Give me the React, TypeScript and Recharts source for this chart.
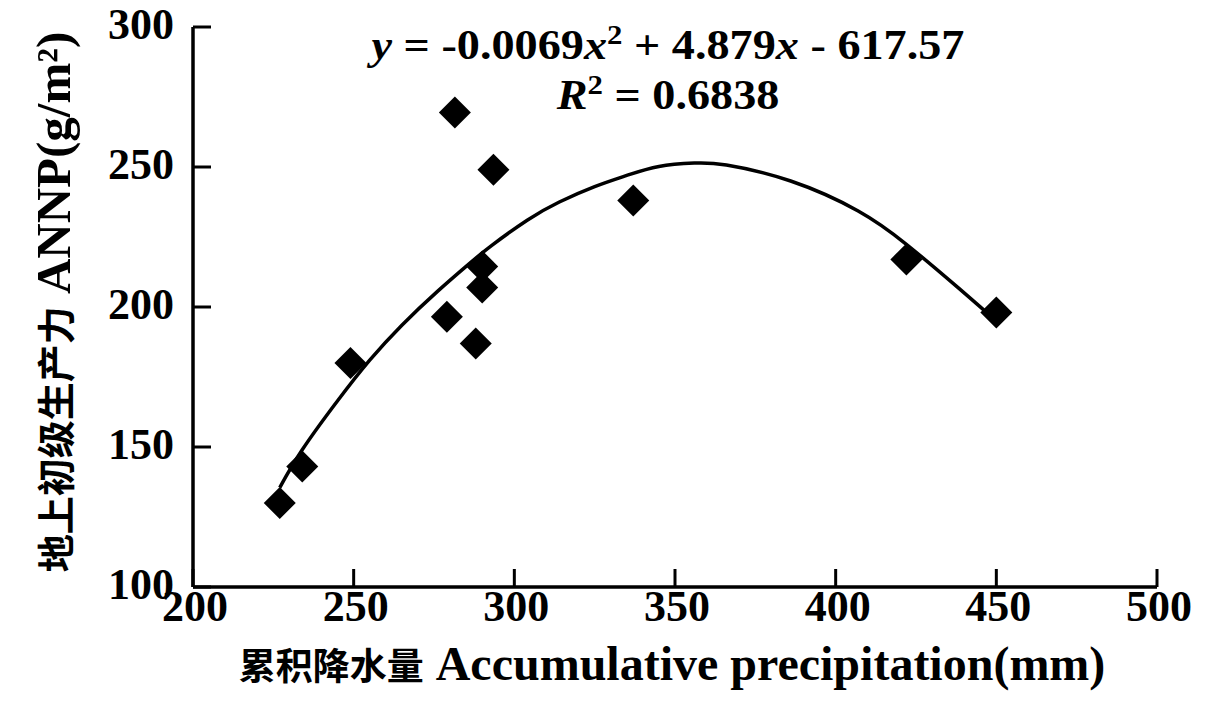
import { ComposedChart, Scatter, Line, XAxis, YAxis } from 'recharts';

// observed points (precipitation mm, ANNP g/m2)
const precip = [227, 234, 249, 279, 281.5, 288, 290, 290, 293.5, 337, 422, 450];
const annp = [130, 143, 180, 196.5, 269.5, 187, 207, 214.5, 249, 238, 217, 198];

// fitted curve
const curveX = [227, 234, 245, 255, 265, 276, 286, 293, 304, 314, 325, 335, 345, 356, 366, 386, 407, 422, 438, 448];
const curveY = [135.5, 149, 166.5, 181, 193.5, 205.5, 215.5, 222, 231, 237.5, 243, 247, 250.2, 251.4, 250.7, 245, 234.3, 222.4, 207, 197];

const xTicks = [200, 250, 300, 350, 400, 450, 500];
const yTicks = [100, 150, 200, 250, 300];

const points = precip.map((x, i) => ({ x, y: annp[i] }));
const curve = curveX.map((x, i) => ({ x, fit: curveY[i] }));

const SERIF = '"Liberation Serif", "Times New Roman", serif';
const CJK = '"Noto Sans CJK SC", sans-serif';
const TICK_LEN = 18;

const Diamond = (props: any) => {
  const { cx, cy } = props;
  const r = 16;
  return (
    <polygon
      points={`${cx},${cy - r} ${cx + r},${cy} ${cx},${cy + r} ${cx - r},${cy}`}
      fill="#000"
    />
  );
};

// inward ticks: tickSize/tickMargin are 0, so x/y is the axis position
const XTick = (props: any) => {
  const { x, y, payload } = props;
  return (
    <g>
      <line x1={x} x2={x} y1={y} y2={y - TICK_LEN} stroke="#000" strokeWidth={3} />
      <text x={x + 2} y={y + 34} textAnchor="middle" fill="#000"
        style={{ fontFamily: SERIF, fontSize: 44, fontWeight: 'bold' }}>
        {payload.value}
      </text>
    </g>
  );
};

const YTick = (props: any) => {
  const { x, y, payload } = props;
  return (
    <g>
      <line x1={x} x2={x + TICK_LEN} y1={y} y2={y} stroke="#000" strokeWidth={3} />
      <text x={x - 19} y={y + 12} textAnchor="end" fill="#000"
        style={{ fontFamily: SERIF, fontSize: 44, fontWeight: 'bold' }}>
        {payload.value}
      </text>
    </g>
  );
};

export default function App() {
  return (
    <div style={{ position: 'absolute', left: 0, top: 0, width: 1210, height: 706, background: '#fff', color: '#000' }}>
      <ComposedChart
        width={1210}
        height={706}
        margin={{ top: 27, right: 53, left: 0, bottom: 0 }}
      >
        <XAxis
          type="number"
          dataKey="x"
          domain={[200, 500]}
          ticks={xTicks}
          allowDataOverflow
          height={119}
          stroke="#000"
          strokeWidth={3.5}
          tickLine={false}
          tickSize={0}
          tickMargin={0}
          tick={<XTick />}
        />
        <YAxis
          type="number"
          domain={[100, 300]}
          ticks={yTicks}
          allowDataOverflow
          width={193}
          stroke="#000"
          strokeWidth={3.5}
          tickLine={false}
          tickSize={0}
          tickMargin={0}
          tick={<YTick />}
        />
        <Line
          data={curve}
          dataKey="fit"
          type="natural"
          stroke="#000"
          strokeWidth={3.5}
          dot={false}
          activeDot={false}
          isAnimationActive={false}
        />
        <Scatter
          data={points}
          dataKey="y"
          fill="#000"
          shape={Diamond}
          isAnimationActive={false}
        />
      </ComposedChart>

      {/* regression equation */}
      <div
        style={{
          position: 'absolute',
          left: 368,
          top: 20,
          width: 600,
          textAlign: 'center',
          fontFamily: SERIF,
          fontWeight: 'bold',
          fontSize: 42,
          lineHeight: '50px',
          transform: 'scaleX(1.1)',
          whiteSpace: 'nowrap',
        }}
      >
        <div>
          <i>y</i> = -0.0069<i>x</i><sup style={{ fontSize: 28, lineHeight: 0 }}>2</sup> + 4.879<i>x</i> - 617.57
        </div>
        <div>
          <i>R</i><sup style={{ fontSize: 28, lineHeight: 0 }}>2</sup> = 0.6838
        </div>
      </div>

      {/* x axis title */}
      <div
        style={{
          position: 'absolute',
          left: 172,
          top: 636,
          width: 1000,
          textAlign: 'center',
          fontWeight: 'bold',
          lineHeight: '56px',
          whiteSpace: 'nowrap',
        }}
      >
        <span style={{ fontFamily: CJK, fontSize: 37 }}>累积降水量</span>
        <span style={{ fontFamily: SERIF, fontSize: 48 }}> Accumulative precipitation(mm)</span>
      </div>

      {/* y axis title */}
      <div
        style={{
          position: 'absolute',
          left: 54 - 350,
          top: 302 - 28,
          width: 700,
          height: 56,
          textAlign: 'center',
          fontWeight: 'bold',
          lineHeight: '56px',
          whiteSpace: 'nowrap',
          transform: 'rotate(-90deg)',
        }}
      >
        <span style={{ fontFamily: CJK, fontSize: 38 }}>地上初级生产力</span>
        <span style={{ fontFamily: SERIF, fontSize: 49 }}> ANNP(g/m²)</span>
      </div>
    </div>
  );
}
